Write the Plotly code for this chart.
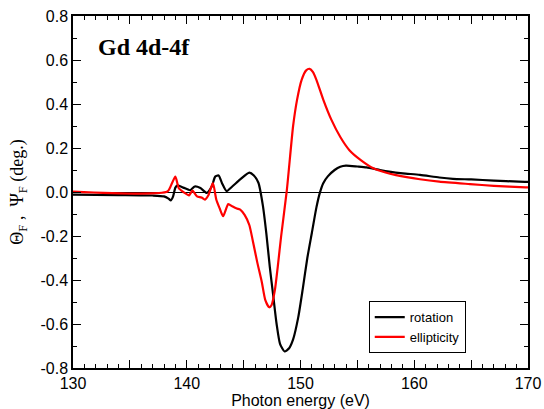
import plotly.graph_objects as go

# Rotation (black) data
rot_x = [130, 134, 137, 138, 138.4, 138.6, 138.8, 139.0, 139.2, 139.7, 140.3, 140.7, 141.2,
         141.75, 142.2, 142.5, 142.8, 143.1, 143.5, 144.0, 144.7, 145.5, 145.9, 146.3, 146.7,
         147.0, 147.3, 147.6, 147.9, 148.2, 148.6, 149.0, 149.35, 149.8, 150.2, 150.6, 151.0,
         151.4, 151.7, 152.0, 152.4, 153.0, 153.5, 154.0, 155.0, 155.8, 157.0, 157.8, 159.0,
         160.5, 162.2, 163.4, 165.0, 167.0, 169.2, 170.0]
rot_y = [-0.012, -0.014, -0.016, -0.02, -0.03, -0.038, -0.02, 0.02, 0.03, 0.02, 0.008, 0.025, 0.018,
         -0.004, 0.025, 0.07, 0.075, 0.04, 0.004, 0.025, 0.057, 0.088, 0.075, 0.042, -0.064,
         -0.19, -0.34, -0.47, -0.6, -0.69, -0.725, -0.71, -0.67, -0.57, -0.44, -0.3, -0.185,
         -0.07, -0.004, 0.04, 0.071, 0.1, 0.115, 0.12, 0.116, 0.112, 0.1, 0.093, 0.085,
         0.078, 0.066, 0.06, 0.057, 0.052, 0.047, 0.046]

# Ellipticity (red) data
ell_x = [130, 138.3, 138.7, 139.0, 139.3, 139.7, 140.2, 140.5, 140.9, 141.3, 141.6, 141.9, 142.3,
         142.6, 142.9, 143.2, 143.65, 144.0, 144.4, 144.7, 145.1, 145.5, 145.8, 146.2, 146.6,
         146.9, 147.25, 147.45, 147.75, 148.0, 148.3, 148.8, 149.35, 149.7, 150.1, 150.5, 150.8,
         151.1, 151.4, 152.0, 152.7, 153.5, 154.3, 155.3, 156.4, 157.4, 158.4, 160.5, 162.2,
         164.9, 167.0, 169.8, 170.0]
ell_y = [0.002, 0.002, 0.04, 0.07, 0.017, 0.0, -0.015, 0.006, -0.02, -0.025, -0.035, -0.015, 0.04,
         -0.035, -0.075, -0.11, -0.055, -0.065, -0.075, -0.08, -0.105, -0.15, -0.22, -0.32, -0.41,
         -0.49, -0.524, -0.515, -0.445, -0.34, -0.2, 0.009, 0.3, 0.42, 0.51, 0.553, 0.56,
         0.545, 0.51, 0.42, 0.33, 0.25, 0.19, 0.145, 0.108, 0.09, 0.077, 0.058, 0.047,
         0.036, 0.028, 0.021, 0.021]

x_tickvals = [130, 135, 140, 145, 150, 155, 160, 165, 170]
x_ticktext = ["130", "", "140", "", "150", "", "160", "", "170"]
y_tickvals = [-0.8, -0.6, -0.4, -0.2, 0.0, 0.2, 0.4, 0.6, 0.8]
y_ticktext = ["-0.8", "-0.6", "-0.4", "-0.2", "0.0", "0.2", "0.4", "0.6", "0.8"]

fig = go.Figure()
fig.add_trace(go.Scatter(x=rot_x, y=rot_y, mode="lines", name="rotation",
                         line=dict(color="black", width=2.2, shape="spline", smoothing=0.6)))
fig.add_trace(go.Scatter(x=ell_x, y=ell_y, mode="lines", name="ellipticity",
                         line=dict(color="#ff0000", width=2.2, shape="spline", smoothing=0.6)))

axis_common = dict(showline=True, linecolor="black", linewidth=1.5, mirror="ticks",
                   ticks="inside", ticklen=8, tickwidth=1, tickcolor="black",
                   showgrid=False, automargin=False,
                   tickfont=dict(family="Liberation Sans, Arial", size=16, color="black"))

fig.update_xaxes(range=[130, 170], tickvals=x_tickvals, ticktext=x_ticktext,
                 minor=dict(dtick=1, tick0=130, ticks="inside", ticklen=4, tickcolor="black", showgrid=False),
                 title=dict(text="Photon energy (eV)", standoff=0,
                            font=dict(family="Liberation Sans, Arial", size=16, color="black")),
                 zeroline=False, **axis_common)
fig.update_yaxes(range=[-0.8, 0.8], tickvals=y_tickvals, ticktext=y_ticktext,
                 minor=dict(dtick=0.1, tick0=0, ticks="inside", ticklen=4, tickcolor="black", showgrid=False),
                 title=dict(text="Θ<sub>F</sub> ,  Ψ<sub>F</sub> (deg.)", standoff=12,
                            font=dict(family="Liberation Serif, Times New Roman", size=18, color="black")),
                 zeroline=True, zerolinecolor="black", zerolinewidth=1, **axis_common)

fig.add_annotation(text="<b>Gd 4d-4f</b>", xref="paper", yref="paper", x=0.05, y=0.912,
                   xanchor="left", yanchor="middle", showarrow=False,
                   font=dict(family="Liberation Serif, Times New Roman", size=24, color="black"))

fig.update_layout(
    width=544, height=409,
    margin=dict(l=73, r=16, t=16, b=41, autoexpand=False),
    plot_bgcolor="white", paper_bgcolor="white",
    showlegend=True,
    legend=dict(x=0.65, y=0.19, xanchor="left", yanchor="top",
                bordercolor="black", borderwidth=1, bgcolor="white",
                font=dict(family="Liberation Sans, Arial", size=13, color="black"),
                itemwidth=30, tracegroupgap=0),
)

fig.write_html("out.html")
